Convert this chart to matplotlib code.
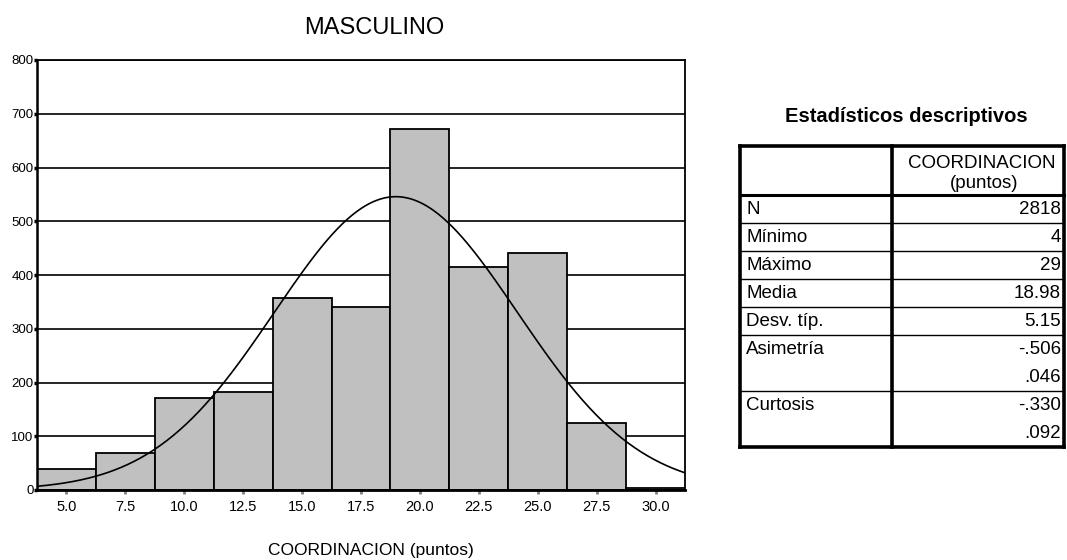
import numpy as np
import matplotlib
matplotlib.use("Agg")
import matplotlib.pyplot as plt

plt.rcParams['font.family'] = ['Liberation Sans', 'DejaVu Sans']

# Histogram of coordination scores (male group)
bin_centers = [5.0, 7.5, 10.0, 12.5, 15.0, 17.5, 20.0, 22.5, 25.0, 27.5, 30.0]
counts = [40, 68, 171, 183, 358, 341, 672, 414, 441, 124, 4]
bin_width = 2.5
y_ticks = [0, 100, 200, 300, 400, 500, 600, 700, 800]

# Descriptive statistics
n_total = 2818
mean_value = 18.98
sd_value = 5.15
stat_labels = ["N", "Mínimo", "Máximo", "Media", "Desv. típ.",
               "Asimetría", "", "Curtosis", ""]
stat_values = ["2818", "4", "29", "18.98", "5.15",
               "-.506", ".046", "-.330", ".092"]

W, H = 1067, 560
fig = plt.figure(figsize=(W / 100, H / 100), dpi=100)


def px_box(x0, y0, x1, y1):
    return [x0 / W, 1 - y1 / H, (x1 - x0) / W, (y1 - y0) / H]


ax = fig.add_axes(px_box(37, 60, 685, 490))
ax.bar(bin_centers, counts, width=bin_width, color="#c0c0c0",
       edgecolor="black", linewidth=1.3, zorder=2)

# Normal curve scaled to counts per bin
lo = bin_centers[0] - bin_width / 2
hi = bin_centers[-1] + bin_width / 2
xs = np.linspace(lo, hi, 400)
ys = n_total * bin_width / (sd_value * np.sqrt(2 * np.pi)) * \
    np.exp(-0.5 * ((xs - mean_value) / sd_value) ** 2)
ax.plot(xs, ys, color="black", linewidth=1.2, zorder=3)

ax.set_xlim(lo, hi)
ax.set_ylim(0, 800)
ax.set_yticks(y_ticks)
ax.set_yticklabels([str(v) for v in y_ticks])
ax.set_xticks(bin_centers)
ax.set_xticklabels([f"{v:.1f}" for v in bin_centers])
ax.yaxis.grid(True, color="black", linewidth=1.2)
ax.set_axisbelow(True)
for s in ax.spines.values():
    s.set_color("black")
    s.set_linewidth(1.3)
ax.spines["left"].set_linewidth(1.8)
ax.spines["bottom"].set_linewidth(2.0)
ax.tick_params(axis="y", direction="out", length=2, width=2.5,
               color="black", pad=0.5, labelsize=9.5)
ax.tick_params(axis="x", direction="out", length=3, width=2,
               color="#808080", pad=4, labelsize=10.5)

fig.text(374 / W, 1 - 28 / H, "MASCULINO", ha="center", va="center",
         fontsize=17)
fig.text(371 / W, 1 - 550 / H, "COORDINACION (puntos)", ha="center",
         va="center", fontsize=12.5)

# Statistics table drawn in pixel coordinates
tab = fig.add_axes([0, 0, 1, 1])
tab.set_xlim(0, W)
tab.set_ylim(H, 0)
tab.axis("off")

x_left, x_sep, x_right = 740, 892, 1064
y_top, y_head = 146, 195
row_h = 28
y_bottom = y_head + row_h * len(stat_labels)

tab.text(906, 117, "Estadísticos descriptivos", ha="center", va="center",
         fontsize=14.5, fontweight="bold")

thick = 2.6
tab.plot([x_left, x_right], [y_top, y_top], color="black", lw=thick)
tab.plot([x_left, x_right], [y_head, y_head], color="black", lw=2.2)
tab.plot([x_left, x_right], [y_bottom, y_bottom], color="black", lw=thick)
for xv in (x_left, x_sep, x_right):
    tab.plot([xv, xv], [y_top, y_bottom], color="black", lw=thick)

for i in range(1, len(stat_labels)):
    if stat_labels[i] == "":
        continue
    yv = y_head + row_h * i
    tab.plot([x_left, x_right], [yv, yv], color="black", lw=1.0)

tab.text(982, 164, "COORDINACION", ha="center", va="center", fontsize=13.5)
tab.text(984, 184, "(puntos)", ha="center", va="center", fontsize=13.5)

for i, (lab, val) in enumerate(zip(stat_labels, stat_values)):
    yc = y_head + row_h * i + row_h / 2
    if lab:
        tab.text(x_left + 6, yc, lab, ha="left", va="center", fontsize=13.5)
    tab.text(x_right - 3, yc, val, ha="right", va="center", fontsize=13.5)

fig.savefig("out.png", dpi=100, facecolor="white")
